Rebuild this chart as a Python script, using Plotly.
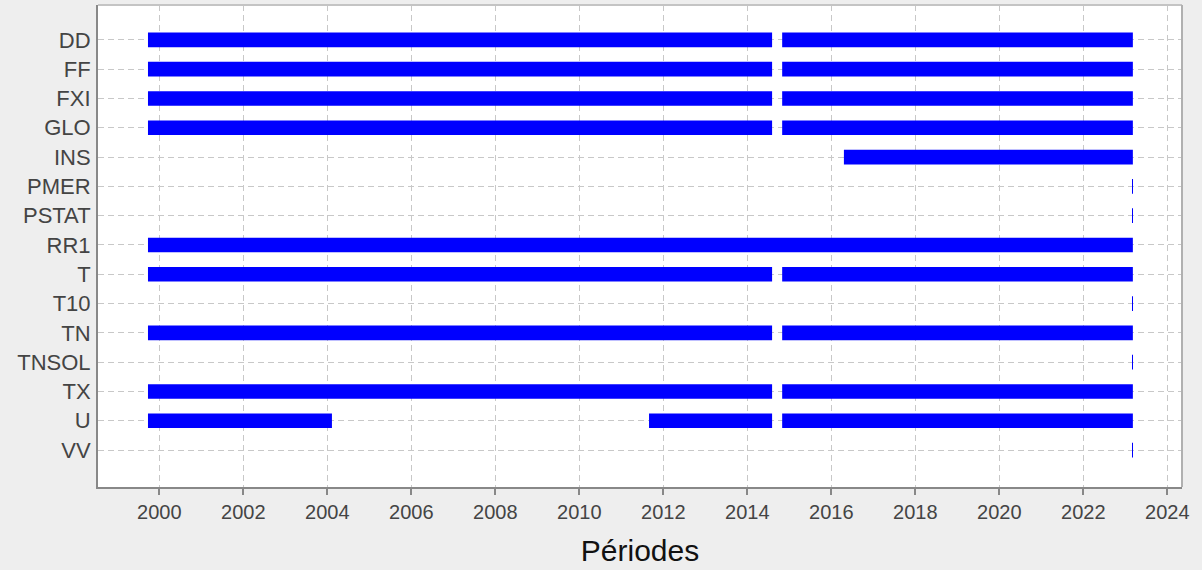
import plotly.graph_objects as go

variables = ["DD", "FF", "FXI", "GLO", "INS", "PMER", "PSTAT", "RR1", "T", "T10",
             "TN", "TNSOL", "TX", "U", "VV"]

# availability periods (decimal years): one entry per segment
seg_var = ["DD", "DD", "FF", "FF", "FXI", "FXI", "GLO", "GLO", "INS", "PMER", "PSTAT",
           "RR1", "T", "T", "T10", "TN", "TN", "TNSOL", "TX", "TX", "U", "U", "U", "VV"]
seg_start = [1999.73, 2014.83, 1999.73, 2014.83, 1999.73, 2014.83, 1999.73, 2014.83,
             2016.30, 2023.16, 2023.16, 1999.73, 1999.73, 2014.83, 2023.16, 1999.73,
             2014.83, 2023.16, 1999.73, 2014.83, 1999.73, 2011.66, 2014.83, 2023.16]
seg_end = [2014.59, 2023.18, 2014.59, 2023.18, 2014.59, 2023.18, 2014.59, 2023.18,
           2023.18, 2023.18, 2023.18, 2023.18, 2014.59, 2023.18, 2023.18, 2014.59,
           2023.18, 2023.18, 2014.59, 2023.18, 2004.11, 2014.59, 2023.18, 2023.18]

year_ticks = list(range(2000, 2025, 2))
x_title = "Périodes"

fig = go.Figure()
fig.add_trace(go.Bar(
    y=seg_var,
    x=[e - s for s, e in zip(seg_start, seg_end)],
    base=seg_start,
    orientation="h",
    width=0.5,
    marker=dict(color="#0000ff", line=dict(width=0)),
    hoverinfo="skip",
    showlegend=False,
))

font_family = "Liberation Sans, Arial, sans-serif"
fig.update_layout(
    width=1202, height=570,
    paper_bgcolor="#eeeeee",
    plot_bgcolor="#ffffff",
    margin=dict(l=98, r=20, t=5, b=83),
    bargap=0.5,
    font=dict(family=font_family, color="#444444"),
    xaxis=dict(
        range=[1998.54, 2024.35],
        tickvals=year_ticks,
        ticktext=[str(v) for v in year_ticks],
        tickfont=dict(size=20, color="#444444"),
        showgrid=True, gridcolor="#c8c8c8", griddash="6px,4px", gridwidth=1,
        zeroline=False,
        showline=True, linecolor="#888888", linewidth=2,
        ticks="outside", ticklen=6, tickwidth=2, tickcolor="#888888",
        title=dict(text=x_title, font=dict(size=30, color="#111111"), standoff=18),
    ),
    yaxis=dict(
        categoryorder="array", categoryarray=variables,
        autorange=False, range=[15.26, -1.19],
        tickfont=dict(size=22, color="#444444"),
        showgrid=True, gridcolor="#c8c8c8", griddash="6px,4px", gridwidth=1,
        zeroline=False,
        showline=True, linecolor="#888888", linewidth=2,
        ticks="", ticklabelstandoff=1,
    ),
    shapes=[
        dict(type="line", xref="paper", yref="paper", x0=0, x1=1, y0=1, y1=1,
             line=dict(color="#c4c4c4", width=2), layer="above"),
        dict(type="line", xref="paper", yref="paper", x0=1, x1=1, y0=0, y1=1,
             line=dict(color="#b0b0b0", width=2), layer="above"),
    ],
)

fig.write_html("out.html",
               config={"displayModeBar": False},
               post_script="document.body.style.margin='0';document.body.style.background='#eeeeee';")
